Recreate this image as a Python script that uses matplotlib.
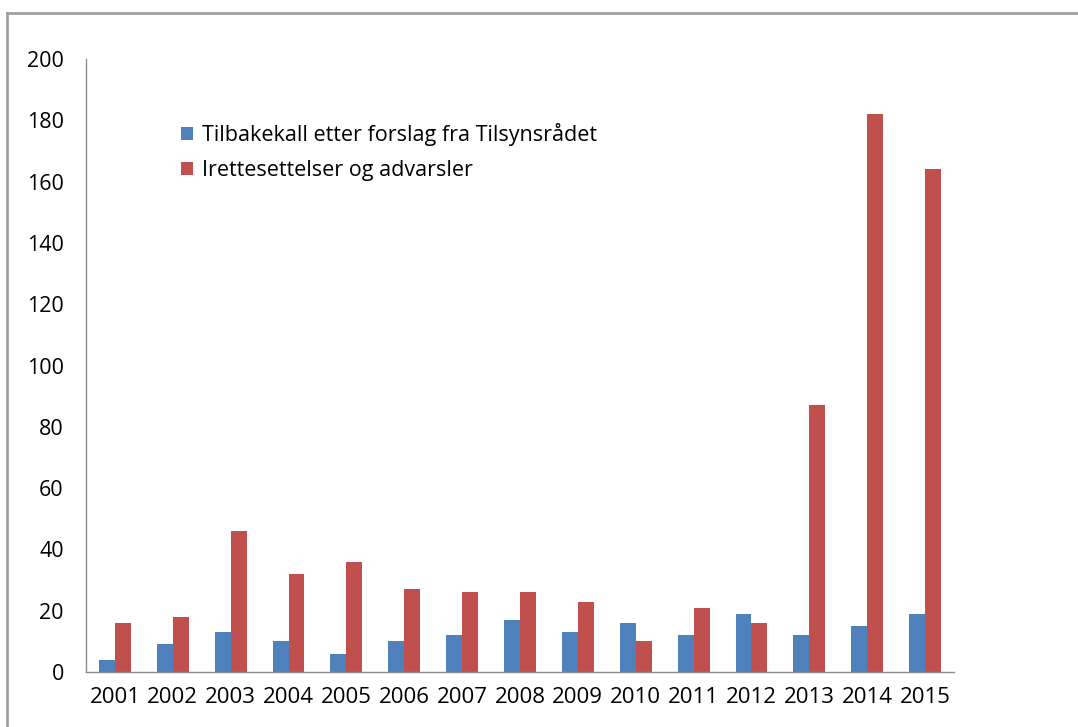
import numpy as np
import matplotlib.pyplot as plt
from matplotlib.lines import Line2D

plt.rcParams['font.family'] = ['Open Sans', 'DejaVu Sans']

years = [str(y) for y in range(2001, 2016)]
tilbakekall = [4, 9, 13, 10, 6, 10, 12, 17, 13, 16, 12, 19, 12, 15, 19]
irettesettelser = [16, 18, 46, 32, 36, 27, 26, 26, 23, 10, 21, 16, 87, 182, 164]
labels = ["Tilbakekall etter forslag fra Tilsynsrådet", "Irettesettelser og advarsler"]
colors = ["#4F81BD", "#C0504D"]

fig = plt.figure(figsize=(10.78, 7.27), dpi=100)
ax = fig.add_axes([86/1078, 1-672/727, (954-86)/1078, (672-59)/727])

x = np.arange(len(years))
w = 0.275
ax.bar(x - w/2, tilbakekall, w, color=colors[0], label=labels[0])
ax.bar(x + w/2, irettesettelser, w, color=colors[1], label=labels[1])

ax.set_xlim(-0.5, len(years) - 0.5)
ax.set_ylim(0, 200)
ax.set_yticks(range(0, 201, 20))
ax.set_xticks(x)
ax.set_xticklabels(years)
ax.tick_params(axis='y', length=0, pad=16, labelsize=15.5)
ax.tick_params(axis='x', length=0, pad=11, labelsize=16)

for s in ['top', 'right']:
    ax.spines[s].set_visible(False)
for s in ['left', 'bottom']:
    ax.spines[s].set_color('#8c8c8c')
    ax.spines[s].set_linewidth(1.0)

ax.legend(loc='upper left', bbox_to_anchor=(0.11, 0.895), frameon=False,
          borderpad=0, borderaxespad=0,
          fontsize=15.5, handlelength=0.55, handleheight=0.55, handletextpad=0.4,
          labelspacing=0.62)

# outer frame (top and left edge only)
fig.add_artist(Line2D([7/1078, 7/1078], [0, 1-13/727], transform=fig.transFigure,
                      color='#a0a0a0', linewidth=2))
fig.add_artist(Line2D([7/1078, 1], [1-13/727, 1-13/727], transform=fig.transFigure,
                      color='#a0a0a0', linewidth=2))

fig.savefig("out.png", dpi=100)
